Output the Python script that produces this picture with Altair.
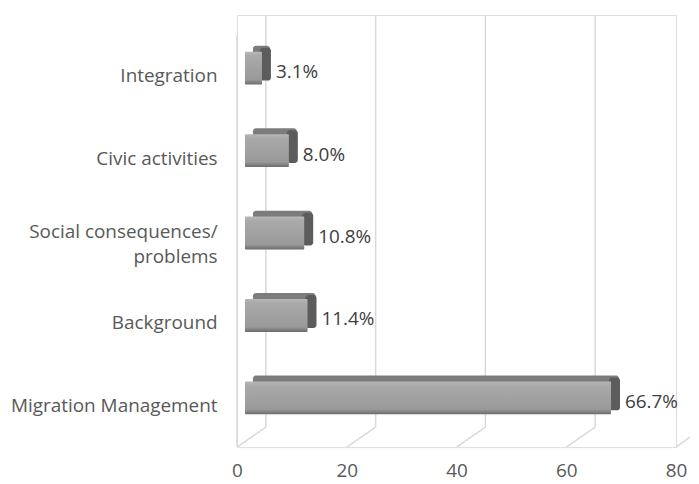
import altair as alt
import pandas as pd

categories = ["Integration", "Civic activities", "Social consequences/ problems",
              "Background", "Migration Management"]
values = [3.1, 8.0, 10.8, 11.4, 66.7]
value_labels = ["3.1%", "8.0%", "10.8%", "11.4%", "66.7%"]
x_ticks = [0, 20, 40, 60, 80]

df = pd.DataFrame({"category": categories, "value": values, "label": value_labels})
ticks_df = pd.DataFrame({"v": x_ticks})

FONT = "Open Sans"
FS = 19
W, H = 441, 434
DX, DY = 29, 20  # depth of the 3D box

x_scale = alt.Scale(domain=[0, 80], nice=False)
y_scale = alt.Scale(domain=categories, range=[DY, H], paddingInner=0.2, paddingOuter=0.1)

grid_col = "#d9d9d9"

back_lines = alt.Chart(ticks_df).transform_filter("datum.v < 80").mark_rule(
    color=grid_col, strokeWidth=1.5, xOffset=DX).encode(
    x=alt.X("v:Q", scale=x_scale,
            axis=alt.Axis(values=x_ticks, grid=False, ticks=False, tickSize=0, domain=False,
                          labelFlush=False, labelBound=False,
                          labelFont=FONT, labelFontSize=FS, labelColor="#595959",
                          labelPadding=15, title=None)),
    y=alt.value(0), y2=alt.value(H - DY),
)

floor_lines = alt.Chart(ticks_df).transform_filter("datum.v < 80").mark_rule(
    color=grid_col, strokeWidth=1.5, x2Offset=DX).encode(
    x=alt.X("v:Q", scale=x_scale), x2=alt.X2("v:Q"),
    y=alt.value(H), y2=alt.value(H - DY),
)

floor_last = alt.Chart(ticks_df).transform_filter("datum.v == 80").mark_rule(
    color=grid_col, strokeWidth=1.5, x2Offset=14).encode(
    x=alt.X("v:Q", scale=x_scale), x2=alt.X2("v:Q"),
    y=alt.value(H), y2=alt.value(H - 10),
)

wall_edge = alt.Chart(ticks_df).transform_filter("datum.v == 0").mark_rule(
    color=grid_col, strokeWidth=1.5).encode(
    x=alt.X("v:Q", scale=x_scale),
    y=alt.value(DY), y2=alt.value(H),
)

y_enc = alt.Y("category:N", scale=y_scale, sort=categories,
              axis=alt.Axis(title=None, ticks=False, tickSize=0, domain=False, grid=False,
                            labelFont=FONT, labelFontSize=FS, labelColor="#595959",
                            labelPadding=20, labelLimit=300, labelLineHeight=25,
                            labelOffset={"condition": {"test": "datum.value == 'Social consequences/ problems'",
                                                       "value": -9}, "value": 0},
                            minExtent=230, maxExtent=230,
                            labelExpr="datum.value == 'Social consequences/ problems' ? ['Social consequences/', 'problems'] : datum.label"))

base = alt.Chart(df).transform_calculate(base="0")

# top face of the box
depth = base.mark_bar(color="#7c7c7c", size=33, cornerRadius=3,
                      xOffset=16, x2Offset=16, yOffset=-14).encode(
    x=alt.X("base:Q", scale=x_scale), x2=alt.X2("value:Q"), y=y_enc)

# right end cap of the box
cap = base.mark_bar(color="#5c5c5c", size=33, cornerRadius=3,
                    xOffset=6, x2Offset=17, yOffset=-12).encode(
    x=alt.X("value:Q", scale=x_scale), x2=alt.X2("value:Q"), y=y_enc)

front_grad = alt.Gradient(
    gradient="linear", x1=0, x2=0, y1=0, y2=1,
    stops=[alt.GradientStop(color="#b8b8b8", offset=0),
           alt.GradientStop(color="#aaaaaa", offset=0.12),
           alt.GradientStop(color="#999999", offset=0.85),
           alt.GradientStop(color="#6a6a6a", offset=1)],
)
front = base.mark_bar(color=front_grad, size=33, cornerRadius=1,
                      xOffset=8, x2Offset=8, yOffset=-8).encode(
    x=alt.X("base:Q", scale=x_scale), x2=alt.X2("value:Q"), y=y_enc)

texts = alt.Chart(df).mark_text(align="left", baseline="middle", dx=22, dy=-4,
                                font=FONT, fontSize=FS, color="#404040").encode(
    x=alt.X("value:Q", scale=x_scale), y=y_enc, text="label:N")

chart = alt.layer(back_lines, floor_lines, floor_last, wall_edge, depth, cap, front, texts).properties(
    width=W, height=H,
    padding={"top": 5, "left": 0, "right": 0, "bottom": 0},
).configure_view(stroke=None).configure(background="white")

chart.save("out.html", embed_options={"renderer": "svg", "actions": False})
